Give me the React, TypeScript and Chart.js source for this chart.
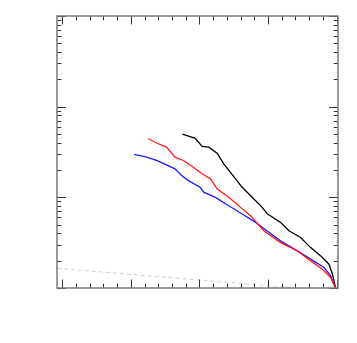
import React, { useEffect, useRef } from "react";
import { Chart, registerables } from "chart.js";

Chart.register(...registerables);

// Series (x in axis units, y on log scale)
const blackX = [17.5, 19.4, 20.38, 21.35, 22.57, 23.54, 24.77, 26.23, 27.69, 29.15, 29.88, 31.83, 33.04, 34.75, 36.21, 37.68, 38.89, 39.39, 39.85];
const blackY = [49.9, 44.7, 36.4, 35.8, 30.7, 23.4, 17.8, 12.9, 10.0, 7.75, 6.6, 5.29, 4.28, 3.61, 2.79, 2.26, 1.83, 1.42, 1.0];

const redX = [12.53, 14.0, 15.2, 16.43, 17.65, 19.1, 20.38, 21.6, 22.57, 24.27, 25.98, 27.44, 29.39, 31.83, 34.27, 36.21, 37.92, 39.14, 39.87];
const redY = [44.3, 39.0, 35.8, 27.7, 25.5, 21.5, 18.2, 16.0, 12.4, 10.0, 7.75, 6.27, 4.28, 3.17, 2.57, 1.99, 1.61, 1.3, 1.0];

const blueX = [10.48, 12.05, 13.74, 15.45, 16.43, 17.4, 18.38, 20.09, 20.61, 22.32, 24.27, 26.23, 28.17, 29.63, 31.83, 34.27, 36.21, 38.16, 39.14, 39.8];
const blueY = [29.7, 28.2, 25.5, 22.4, 20.6, 17.4, 15.3, 12.9, 11.4, 10.0, 8.09, 6.55, 5.29, 4.39, 3.31, 2.57, 2.08, 1.68, 1.36, 1.0];

const dashX = [-0.77, 19.88, 39.9];
const dashY = [1.65, 1.226, 0.918];

const xMin = -0.77;
const xMax = 40.2;
const yMin = 1;
const yMax = 1000;
const xMajorTicks = [0, 10, 20, 30, 40];
const xMinorStep = 2;
const yDecades = [1, 10, 100, 1000];

const toPts = (xs: number[], ys: number[]) => xs.map((x, i) => ({ x, y: ys[i] }));

const frameTicks = {
  id: "frameTicks",
  afterDatasetsDraw(chart: any) {
    const { ctx, chartArea: a, scales } = chart;
    const xs = scales.x;
    const ys = scales.y;
    ctx.save();
    ctx.strokeStyle = "#333";
    ctx.lineWidth = 1;
    const drawX = (v: number, len: number) => {
      const px = Math.round(xs.getPixelForValue(v)) + 0.5;
      if (px < a.left || px > a.right + 1) return;
      ctx.beginPath();
      ctx.moveTo(px, a.bottom);
      ctx.lineTo(px, a.bottom - len);
      ctx.moveTo(px, a.top);
      ctx.lineTo(px, a.top + len);
      ctx.stroke();
    };
    for (let v = 0; v <= xMax + 1e-9; v += xMinorStep) {
      const major = xMajorTicks.some((m) => Math.abs(m - v) < 1e-9);
      drawX(v, major ? 8.5 : 4.3);
    }
    const drawY = (v: number, len: number) => {
      const py = Math.round(ys.getPixelForValue(v)) + 0.5;
      if (py < a.top - 1 || py > a.bottom + 1) return;
      ctx.beginPath();
      ctx.moveTo(a.left, py);
      ctx.lineTo(a.left + len, py);
      ctx.moveTo(a.right, py);
      ctx.lineTo(a.right - len, py);
      ctx.stroke();
    };
    yDecades.forEach((d, i) => {
      drawY(d, 9);
      if (i < yDecades.length - 1) {
        for (let k = 2; k <= 9; k++) drawY(d * k, 4.3);
      }
    });
    ctx.strokeStyle = "#7a7a7a";
    ctx.lineWidth = 1.5;
    ctx.strokeRect(a.left, a.top, a.right - a.left, a.bottom - a.top);
    ctx.restore();
  },
};

export default function App() {
  const ref = useRef<HTMLCanvasElement | null>(null);
  useEffect(() => {
    if (!ref.current) return;
    const chart = new Chart(ref.current, {
      type: "line",
      data: {
        datasets: [
          { data: toPts(redX, redY), borderColor: "#ff1a1a", borderWidth: 1.3, pointRadius: 0, order: 0 },
          { data: toPts(blueX, blueY), borderColor: "#1a1aff", borderWidth: 1.3, pointRadius: 0, order: 1 },
          { data: toPts(blackX, blackY), borderColor: "#000000", borderWidth: 1.3, pointRadius: 0, order: 2 },
          { data: toPts(dashX, dashY), borderColor: "#d0d0d0", borderWidth: 1, borderDash: [4, 3], pointRadius: 0, order: 3 },
        ],
      },
      options: {
        responsive: false,
        animation: false,
        devicePixelRatio: 1,
        layout: { padding: { left: 57, top: 16, right: 19, bottom: 55 } },
        plugins: { legend: { display: false }, tooltip: { enabled: false } },
        scales: {
          x: { type: "linear", min: xMin, max: xMax, display: false },
          y: { type: "logarithmic", min: yMin, max: yMax, display: false },
        },
      },
      plugins: [frameTicks],
    });
    return () => chart.destroy();
  }, []);
  return (
    <div style={{ position: "absolute", left: 0, top: 0, width: 357, height: 343, background: "#fff" }}>
      <canvas ref={ref} width={357} height={343} />
    </div>
  );
}
